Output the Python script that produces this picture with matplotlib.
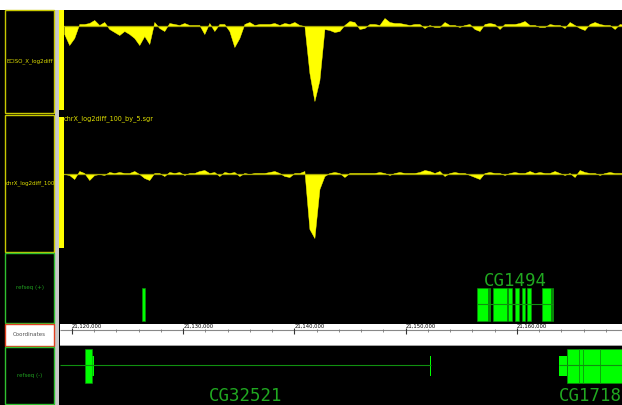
import numpy as np
import matplotlib
matplotlib.use("Agg")
import matplotlib.pyplot as plt
from matplotlib.patches import Rectangle

W, H = 622, 405

# view window on chrX (bp)
VIEW_START = 21118920
VIEW_END = 21169460

# wiggle tracks, one value every 450 bp starting at 21,119,300
WIG_START = 21119300
WIG_STEP = 450
eciso_log2diff = [
    -0.8, -1.9, -1.2, 0.2, 0.2, 0.3, 0.6, 0.1, 0.4, -0.3,
    -0.6, -0.9, -0.5, -0.8, -1.2, -1.9, -1.0, -1.8, 0.4, -0.2,
    -0.5, 0.3, 0.2, 0.1, 0.3, 0.1, 0.1, 0.1, -0.8, 0.3,
    -0.5, 0.2, 0.2, -0.5, -2.1, -1.2, 0.2, 0.4, 0.1, 0.2,
    0.2, 0.2, 0.3, 0.1, 0.3, 0.2, 0.4, 0.1, 0.0, -4.7,
    -7.5, -5.4, -0.3, -0.4, -0.6, -0.5, 0.1, 0.5, 0.4, -0.3,
    -0.2, 0.2, 0.2, 0.1, 0.8, 0.4, 0.3, 0.3, 0.2, 0.1,
    0.2, 0.2, -0.2, 0.1, -0.1, -0.1, 0.4, 0.1, 0.1, -0.1,
    0.1, 0.2, -0.3, -0.5, 0.2, 0.3, 0.2, -0.3, 0.2, 0.2,
    0.2, 0.3, 0.5, 0.1, 0.1, -0.1, -0.1, 0.2, 0.1, 0.1,
    -0.2, 0.4, 0.1, -0.2, -0.4, 0.2, 0.4, 0.2, 0.1, 0.1,
    -0.3, 0.2, 0.1,
]
chrx_log2diff = [
    0.0, -0.1, -0.5, 0.3, 0.1, -0.6, -0.1, 0.0, -0.1, 0.2,
    0.1, 0.2, 0.1, 0.1, 0.3, 0.0, -0.4, -0.6, 0.1, 0.1,
    -0.2, 0.2, 0.1, 0.2, -0.1, 0.1, 0.1, 0.3, 0.4, 0.1,
    0.2, -0.2, 0.2, 0.1, 0.2, -0.2, 0.1, 0.0, 0.1, 0.1,
    0.1, 0.2, 0.3, 0.1, -0.2, -0.3, 0.1, 0.1, 0.3, -5.5,
    -6.4, -1.5, -0.2, 0.1, 0.2, 0.1, -0.3, 0.1, 0.1, 0.1,
    0.1, 0.1, 0.1, 0.2, 0.1, -0.1, 0.1, 0.2, 0.1, 0.1,
    0.1, 0.2, 0.4, 0.3, 0.1, 0.3, -0.2, 0.1, 0.2, 0.1,
    0.1, -0.1, -0.3, -0.5, 0.1, 0.2, 0.1, 0.1, -0.1, 0.1,
    0.2, 0.1, 0.1, 0.3, 0.1, 0.2, 0.1, 0.1, 0.3, 0.1,
    -0.1, 0.1, -0.3, 0.4, 0.2, 0.1, 0.1, -0.1, 0.1, 0.2,
    0.1, 0.1, 0.1,
]

# refseq genes: name, exons (start, end), utr (start, end)
plus_genes = {
    "": {"exons": [(21126268, 21126565)], "utr": []},
    "CG1494": {
        "exons": [(21156421, 21157410), (21157500, 21157590), (21157860, 21159119),
                  (21159209, 21159568), (21159838, 21160198), (21160468, 21160737),
                  (21160917, 21161277), (21162266, 21163076), (21163165, 21163255)],
        "utr": [],
    },
}
minus_genes = {
    "CG32521": {
        "exons": [(21121169, 21121800)],
        "utr": [(21121800, 21121980), (21152150, 21152240)],
        "span": (21100000, 21152240),
    },
    "CG1718": {
        "exons": [(21164514, 21165600), (21165600, 21165950),
                  (21165950, 21167480), (21167480, 21172000)],
        "utr": [(21163795, 21164514)],
        "span": (21163795, 21172000),
    },
}

YELLOW = "#ffff00"
EXON = "#00ff00"
DKGREEN = "#109010"
LABEL_GREEN = "#20a820"


def box(x0, y0, x1, y1):
    return [x0 / W, 1 - y1 / H, (x1 - x0) / W, (y1 - y0) / H]


def fig_rect(fig, x0, y0, x1, y1, **kw):
    fig.patches.append(Rectangle((x0 / W, 1 - y1 / H), (x1 - x0) / W, (y1 - y0) / H,
                                 transform=fig.transFigure, **kw))


def blank(ax, bg="black"):
    ax.set_facecolor(bg)
    ax.set_xticks([])
    ax.set_yticks([])
    for s in ax.spines.values():
        s.set_visible(False)
    ax.set_xlim(VIEW_START, VIEW_END)


fig = plt.figure(figsize=(W / 100, H / 100), dpi=100, facecolor="black")

# white strip on top, grey divider column
fig_rect(fig, 0, 0, W, 10, facecolor="white", edgecolor="none")
fig_rect(fig, 55, 10, 59, H, facecolor="#c8c8c8", edgecolor="none")

# left label panels
panels = [
    (10, 113, "#c8c800", "black", "ECISO_X_log2diff", "#e0e000"),
    (115, 252, "#c8c800", "black", "chrX_log2diff_100", "#e0e000"),
    (253, 323, "#30c030", "black", "refseq (+)", "#20a020"),
    (324, 346, "#e04020", "white", "Coordinates", "#505050"),
    (347, 404, "#30c030", "black", "refseq (-)", "#20a020"),
]
centred = ("refseq (+)", "refseq (-)", "Coordinates")
for y0, y1, ec, fc, name, tc in panels:
    fig_rect(fig, 5, y0, 54, y1, facecolor=fc, edgecolor=ec, linewidth=1)
    fig.text(29.5 / W if name in centred else 6 / W,
             1 - (y0 + y1) / 2 / H, name, fontsize=4, color=tc, va="center",
             ha="center" if name in centred else "left")

# wiggle tracks
wig_x = WIG_START + WIG_STEP * np.arange(len(eciso_log2diff))
tracks = [
    ((60, 10, 622, 113), eciso_log2diff, (-8.7, 1.6), (10, 110)),
    ((60, 115, 622, 252), chrx_log2diff, (-7.8, 5.9), (117, 248)),
]
for rect, vals, ylim, bar in tracks:
    ax = fig.add_axes(box(*rect))
    blank(ax)
    ax.set_ylim(*ylim)
    ax.fill_between(wig_x, 0, vals, color=YELLOW, linewidth=0.3)
    ax.axhline(0, color="#a8a800", linewidth=0.9)
    fig_rect(fig, 59, bar[0], 64, bar[1], facecolor=YELLOW, edgecolor="none")

fig.text(64 / W, 1 - 119 / H, "chrX_log2diff_100_by_5.sgr", fontsize=4.7,
         color="#e0e000", va="center", ha="left")

# refseq (+)
axp = fig.add_axes(box(60, 253, 622, 323))
blank(axp)
axp.set_ylim(323, 253)
for name, g in plus_genes.items():
    ex = g["exons"]
    if len(ex) > 1:
        axp.hlines(304, ex[0][0], ex[-1][1], color=DKGREEN, linewidth=0.8)
    axp.broken_barh([(s, e - s) for s, e in ex], (288, 33), facecolor=EXON,
                    edgecolor=DKGREEN, linewidth=0.4)
    if name:
        axp.text((ex[0][0] + ex[-1][1]) / 2, 281, name, fontsize=12.5,
                 family="DejaVu Sans Mono", color=LABEL_GREEN, ha="center", va="center")

# coordinates ruler
axc = fig.add_axes(box(60, 324, 622, 346))
blank(axc, "white")
axc.set_ylim(346, 324)
axc.hlines(330, VIEW_START, VIEW_END, color="#888888", linewidth=0.8)
axc.axhline(345.5, color="#909090", linewidth=1.2)
minor = np.arange(21118000, VIEW_END, 2000)
axc.vlines(minor, 329, 331.5, color="#777777", linewidth=0.6)
major = np.arange(21120000, VIEW_END, 10000)
axc.vlines(major, 328, 334, color="#333333", linewidth=0.8)
for m in major:
    axc.text(m, 326.5, f"{m:,}", fontsize=3.8, color="black", ha="left", va="center")

# refseq (-)
axm = fig.add_axes(box(60, 347, 622, 405))
blank(axm)
axm.set_ylim(405, 347)
for name, g in minus_genes.items():
    s0, s1 = g["span"]
    axm.hlines(365, max(s0, VIEW_START), min(s1, VIEW_END), color=DKGREEN, linewidth=0.8)
    axm.broken_barh([(s, e - s) for s, e in g["utr"]], (356, 20), facecolor=EXON,
                    edgecolor="none")
    axm.broken_barh([(s, e - s) for s, e in g["exons"]], (349, 34), facecolor=EXON,
                    edgecolor=DKGREEN, linewidth=0.4)
    if s1 > VIEW_END:
        axm.text(s0, 396, name, fontsize=12.5, family="DejaVu Sans Mono",
                 color=LABEL_GREEN, ha="left", va="center", clip_on=True)
    else:
        axm.text((max(s0, VIEW_START) + s1) / 2, 396, name, fontsize=12.5,
                 family="DejaVu Sans Mono", color=LABEL_GREEN, ha="center", va="center")

fig.savefig("out.png", dpi=100, facecolor=fig.get_facecolor())
